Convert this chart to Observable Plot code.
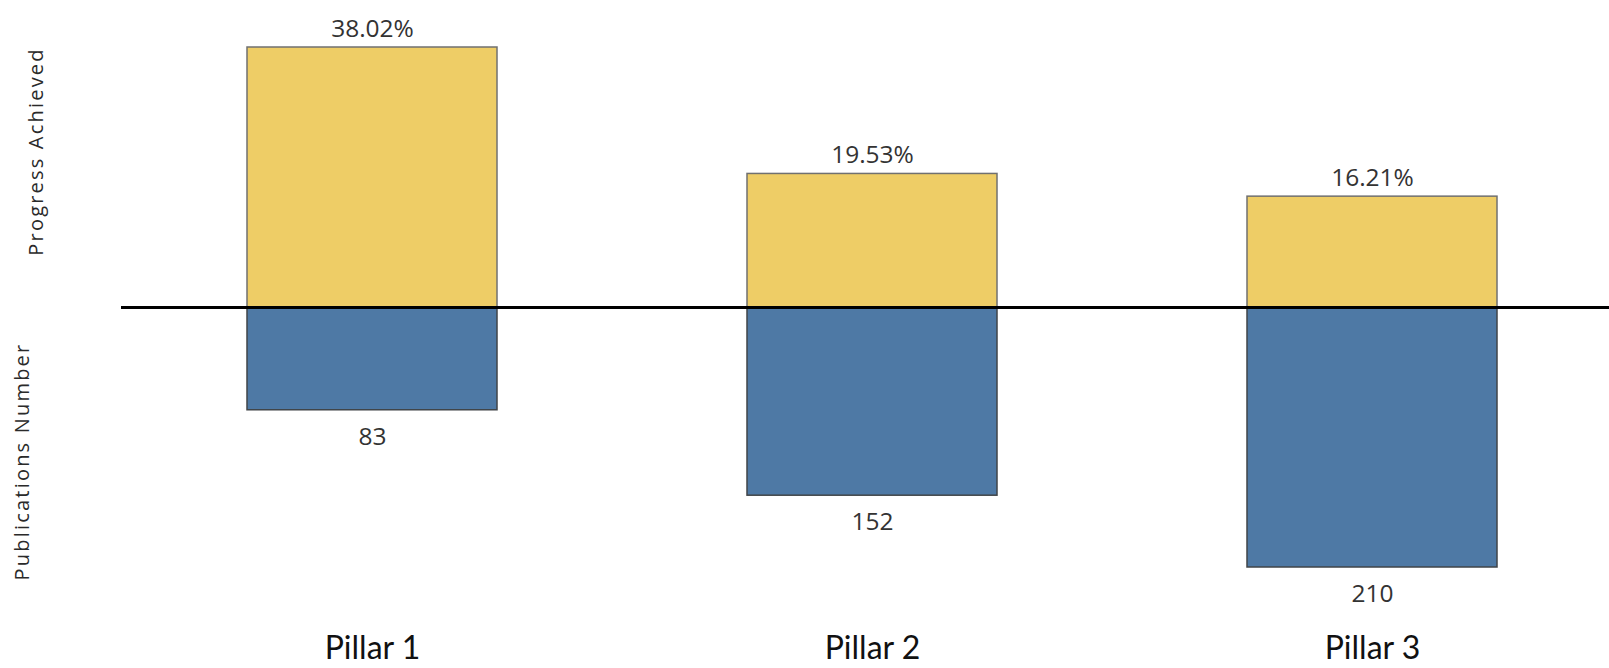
<!DOCTYPE html>
<html><head><meta charset="utf-8">
<script src="https://cdn.jsdelivr.net/npm/d3@7"></script>
<script src="https://cdn.jsdelivr.net/npm/@observablehq/plot@0.6"></script>
<style>html,body{margin:0;padding:0;background:#fff;} svg{display:block;}</style>
</head><body><div id="chart"></div>
<script>
const pillars = ["Pillar 1", "Pillar 2", "Pillar 3"];
const progressAchieved = [38.02, 19.53, 16.21];
const publicationsNumber = [83, 152, 210];
const axisTitles = ["Progress Achieved", "Publications Number"];

const maxProgress = d3.max(progressAchieved);
const maxPubs = d3.max(publicationsNumber);
const progressRows = pillars.map((p, i) => ({pillar: p, value: progressAchieved[i], share: progressAchieved[i] / maxProgress}));
const pubRows = pillars.map((p, i) => ({pillar: p, value: publicationsNumber[i], share: -publicationsNumber[i] / maxPubs}));

const numFont = "'Open Sans', 'DejaVu Sans', sans-serif";

const chart = Plot.plot({
  width: 1609,
  height: 668,
  marginLeft: 121,
  marginRight: 0,
  marginTop: 47,
  marginBottom: 101,
  style: {fontFamily: numFont, background: "#fff", overflow: "visible"},
  x: {domain: pillars, range: [122, 1622], paddingInner: 0.5, paddingOuter: 0.25, axis: null},
  y: {domain: [-1, 1], axis: null},
  marks: [
    Plot.barY(progressRows, {x: "pillar", y: "share", fill: "#EECD66", stroke: "#707070", strokeWidth: 1.5}),
    Plot.barY(pubRows, {x: "pillar", y: "share", fill: "#4E79A5", stroke: "#404448", strokeWidth: 1.5}),
    Plot.ruleY([0], {stroke: "#000", strokeWidth: 3}),
    Plot.text(progressRows, {x: "pillar", y: "share", text: d => d.value.toFixed(2) + "%", lineAnchor: "bottom", dy: -11, fontSize: 24.5, fill: "#333", fontFamily: numFont}),
    Plot.text(pubRows, {x: "pillar", y: "share", text: d => String(d.value), lineAnchor: "top", dy: 17, fontSize: 24.5, fill: "#333", fontFamily: numFont}),
    Plot.axisX({domain: pillars, tickSize: 0, tickPadding: 69, fontSize: 32, label: null, fill: "#111", fontFamily: "Lato, 'Open Sans', sans-serif"}),
    Plot.text([axisTitles[0]], {text: d => d, frameAnchor: "top-left", textAnchor: "middle", rotate: -90, dx: -93, dy: 104, fontSize: 20, fill: "#2a2a2a", fontFamily: numFont}),
    Plot.text([axisTitles[1]], {text: d => d, frameAnchor: "bottom-left", textAnchor: "middle", rotate: -90, dx: -93, dy: -106, fontSize: 20, fill: "#2a2a2a", fontFamily: numFont})
  ]
});
chart.querySelectorAll("text").forEach(t => {
  if (t.textContent === axisTitles[0] || t.textContent === axisTitles[1]) t.setAttribute("letter-spacing", "2.2");
});
document.getElementById("chart").appendChild(chart);
</script>
</body></html>
